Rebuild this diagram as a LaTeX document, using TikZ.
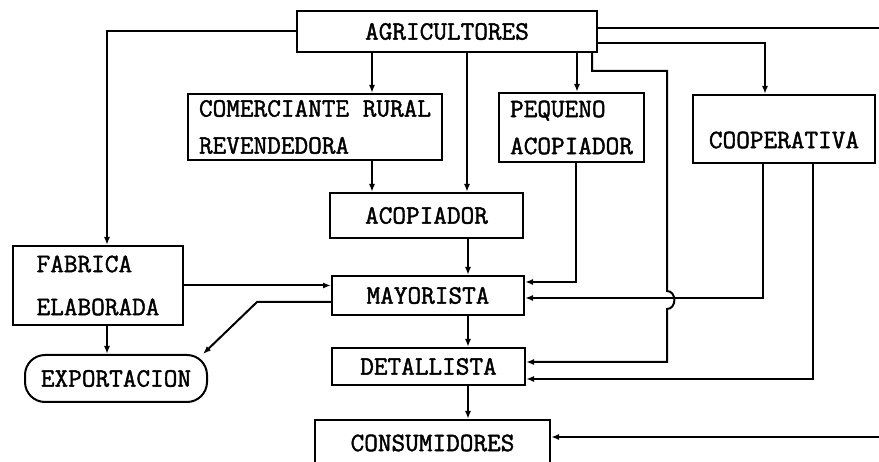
\documentclass[tikz,border=0pt]{standalone}
\usepackage{fontspec}
\newfontfamily\typefont[FakeBold=1.6]{Latin Modern Mono}
\newcommand\boxfont{\typefont\fontsize{26.5}{37}\selectfont}
\usetikzlibrary{arrows.meta}

\tikzset{
  box/.style={draw, line width=2pt, inner sep=0pt, font=\boxfont, align=left},
  link/.style={line width=2pt, -{Latex[length=8pt,width=6pt]}},
}

\begin{document}
\begin{tikzpicture}[x=1pt, y=-1pt]
\useasboundingbox (0,0) rectangle (879,462);
\clip (0,0) rectangle (879,462);

\node[box, minimum width=300pt, minimum height=41pt] (agri) at (447,31.5) {AGRICULTORES};
\node[box, minimum width=254pt, minimum height=66pt] (comer) at (315,127) {COMERCIANTE RURAL\\REVENDEDORA};
\node[box, minimum width=145pt, minimum height=69pt] (peq) at (571.5,127.5) {PEQUENO\\ACOPIADOR};
\node[box, minimum width=182pt, minimum height=68pt] (coop) at (784,129) {\raisebox{-11pt}[\height][\depth]{COOPERATIVA}};
\node[box, minimum width=193pt, minimum height=45pt] (acop) at (426.5,215.5) {ACOPIADOR};
\node[box, minimum width=170pt, minimum height=79pt] (fab) at (98,285.5) {FABRICA\\[6pt]ELABORADA};
\node[box, minimum width=192pt, minimum height=39pt] (mayo) at (428,295.5) {MAYORISTA};
\node[box, minimum width=182pt, minimum height=47pt, rounded corners=20pt] (expo) at (116,378.5) {EXPORTACION};
\node[box, minimum width=193pt, minimum height=37pt] (deta) at (428.5,366.5) {DETALLISTA};
\node[box, minimum width=235pt, minimum height=46pt] (cons) at (432.5,443) {CONSUMIDORES};
\coordinate (rim) at (895,200);

\draw[link] (agri.west) -| ([xshift=9pt]fab.north);
\draw[link] ([xshift=-75pt]agri.south) -- ([xshift=57pt]comer.north);
\draw[link] ([xshift=20pt]agri.south) -- ([xshift=40.5pt]acop.north);
\draw[link] ([xshift=130pt]agri.south) -- ([xshift=5.5pt]peq.north);
\draw[link] ([xshift=145pt]agri.south) -- ++(0,18) -- ++(75,0) -- ++(0,220)
  to[out=0,in=0,looseness=1.4] ++(0,18) |- ([yshift=4.5pt]deta.east);
\draw[link] ([yshift=-11.5pt]agri.east) -| ([xshift=-19pt]coop.north);
\draw[link] ([yshift=3.5pt]agri.east) -| (rim) |- ([yshift=6pt]cons.east);
\draw[link] ([xshift=57pt]comer.south) -- ([xshift=-54.5pt]acop.north);
\draw[link] ([xshift=41.5pt]acop.south) -- ([xshift=40pt]mayo.north);
\draw[link] ([xshift=4.5pt]peq.south) |- ([yshift=13.5pt]mayo.east);
\draw[link] ([xshift=-21pt]coop.south) |- ([yshift=-2.5pt]mayo.east);
\draw[link] ([xshift=29pt]coop.south) |- ([yshift=-12.5pt]deta.east);
\draw[link] (fab.east) -- (fab.east -| mayo.west);
\draw[link] ([yshift=-6.5pt]mayo.west) -- ++(-74,0) -- ([xshift=-5pt]expo.north east);
\draw[link] ([xshift=9pt]fab.south) -- ([xshift=-9pt]expo.north);
\draw[link] ([xshift=40pt]mayo.south) -- ([xshift=39.5pt]deta.north);
\draw[link] ([xshift=39.5pt]deta.south) -- ([xshift=35.5pt]cons.north);
\end{tikzpicture}
\end{document}
